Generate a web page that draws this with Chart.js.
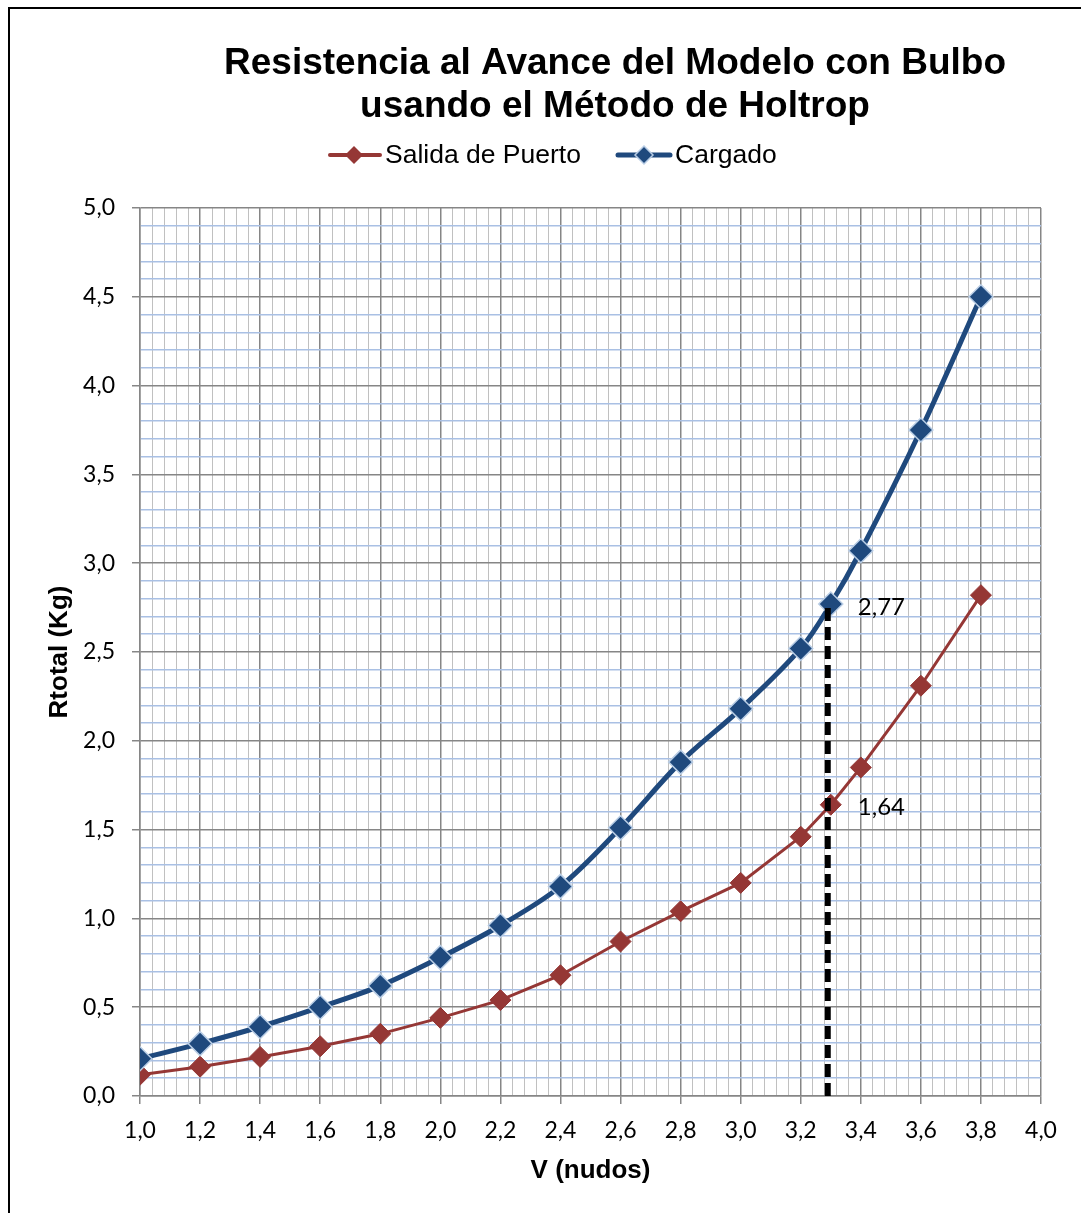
<!DOCTYPE html>
<html>
<head>
<meta charset="utf-8">
<script src="https://cdn.jsdelivr.net/npm/chart.js@4.4.1/dist/chart.umd.min.js"></script>
<style>
  html, body { margin: 0; padding: 0; background: #fff; }
  #wrap { position: relative; width: 1081px; height: 1213px; }
</style>
</head>
<body>
<div id="wrap"><canvas id="chart"></canvas></div>
<script>
// datos
const velocidades = [1.0, 1.2, 1.4, 1.6, 1.8, 2.0, 2.2, 2.4, 2.6, 2.8, 3.0, 3.2, 3.3, 3.4, 3.6, 3.8];
const salidaPuerto = [0.12, 0.165, 0.22, 0.28, 0.35, 0.44, 0.54, 0.68, 0.87, 1.04, 1.20, 1.46, 1.64, 1.85, 2.31, 2.82];
const cargado = [0.21, 0.295, 0.39, 0.50, 0.62, 0.78, 0.96, 1.18, 1.51, 1.88, 2.18, 2.52, 2.77, 3.07, 3.75, 4.50];
const lineaV = [3.29, 3.29];
const lineaR = [0, 2.77];
const etiquetasV = [3.3, 3.3];
const etiquetasR = [2.77, 1.64];
const etiquetasTexto = ['2,77', '1,64'];
const titulo = ['Resistencia al Avance del Modelo con Bulbo', 'usando el Método de Holtrop'];
const nombresSeries = ['Salida de Puerto', 'Cargado'];

const ROJO = '#953735';
const AZUL = '#1F497D';
const AZUL_BORDE = '#B9CDE5';
const GRIS = '#868686';
const GRIS_MENOR = '#C0C0C0';
const AZUL_MENOR = '#A9C0E4';
const fuenteNum = 'Lato, "Open Sans", sans-serif';
const fuenteTit = '"Liberation Sans", Arial, sans-serif';

const esMultiplo = (v, paso) => Math.abs(v / paso - Math.round(v / paso)) < 1e-6;
const coma = v => v.toFixed(1).replace('.', ',');

function rombo(ctx, x, y, r, relleno, borde) {
    ctx.beginPath();
    ctx.moveTo(x, y - r);
    ctx.lineTo(x + r, y);
    ctx.lineTo(x, y + r);
    ctx.lineTo(x - r, y);
    ctx.closePath();
    ctx.fillStyle = relleno;
    ctx.fill();
    if (borde) {
        ctx.strokeStyle = borde;
        ctx.lineWidth = 1.5;
        ctx.stroke();
    }
}

const decoracion = {
    id: 'decoracion',
    beforeDraw(chart) {
        const ctx = chart.ctx;
        ctx.save();
        ctx.fillStyle = '#fff';
        ctx.fillRect(0, 0, chart.width, chart.height);
        ctx.restore();
    },
    afterDraw(chart) {
        const { ctx, scales: { x, y } } = chart;
        ctx.save();
        // marco exterior
        ctx.strokeStyle = '#000';
        ctx.lineWidth = 2;
        ctx.beginPath();
        ctx.moveTo(9, chart.height);
        ctx.lineTo(9, 8);
        ctx.lineTo(chart.width, 8);
        ctx.stroke();

        // titulo
        ctx.fillStyle = '#000';
        ctx.textAlign = 'center';
        ctx.textBaseline = 'middle';
        ctx.font = 'bold 37px ' + fuenteTit;
        ctx.fillText(titulo[0], 615, 64);
        ctx.fillText(titulo[1], 615, 107);

        // leyenda
        ctx.lineCap = 'round';
        ctx.strokeStyle = ROJO;
        ctx.lineWidth = 4;
        ctx.beginPath(); ctx.moveTo(330, 155); ctx.lineTo(380, 155); ctx.stroke();
        rombo(ctx, 354, 155, 9, ROJO);
        ctx.strokeStyle = AZUL;
        ctx.lineWidth = 5;
        ctx.beginPath(); ctx.moveTo(618, 155); ctx.lineTo(670, 155); ctx.stroke();
        rombo(ctx, 644, 155, 9, AZUL, AZUL_BORDE);
        ctx.fillStyle = '#000';
        ctx.textAlign = 'left';
        ctx.font = '26.5px ' + fuenteTit;
        ctx.fillText(nombresSeries[0], 385, 156);
        ctx.fillText(nombresSeries[1], 675, 156);

        // etiquetas de datos
        ctx.font = '24px ' + fuenteNum;
        etiquetasTexto.forEach((t, i) => {
            ctx.fillText(t, x.getPixelForValue(etiquetasV[i]) + 27, y.getPixelForValue(etiquetasR[i]) + 3);
        });
        ctx.restore();
    }
};

const puntos = serie => velocidades.map((v, i) => ({ x: v, y: serie[i] }));

new Chart(document.getElementById('chart'), {
    type: 'line',
    data: {
        datasets: [
            {
                label: 'V = 3,29',
                data: lineaV.map((v, i) => ({ x: v, y: lineaR[i] })),
                borderColor: '#000',
                borderWidth: 6,
                borderDash: [13, 6],
                pointRadius: 0,
                order: -1
            },
            {
                label: nombresSeries[1],
                data: puntos(cargado),
                borderColor: AZUL,
                borderWidth: 5,
                tension: 0.35,
                pointStyle: 'rectRot',
                pointRadius: 12,
                pointBackgroundColor: AZUL,
                pointBorderColor: AZUL_BORDE,
                pointBorderWidth: 1.5,
                order: 1
            },
            {
                label: nombresSeries[0],
                data: puntos(salidaPuerto),
                borderColor: ROJO,
                borderWidth: 3,
                tension: 0,
                pointStyle: 'rectRot',
                pointRadius: 10.5,
                pointBackgroundColor: ROJO,
                pointBorderColor: ROJO,
                pointBorderWidth: 1,
                order: 2
            }
        ]
    },
    options: {
        responsive: true,
        maintainAspectRatio: false,
        animation: false,
        layout: { padding: { top: 208, left: 0, right: 40, bottom: 0 } },
        plugins: {
            legend: { display: false },
            title: { display: false },
            tooltip: { enabled: false }
        },
        scales: {
            x: {
                type: 'linear',
                min: 1,
                max: 4,
                afterFit(s) { s.height = 117; s.paddingLeft = 0; s.paddingRight = 0; },
                border: { color: GRIS, width: 1.5 },
                grid: {
                    color: c => esMultiplo(c.tick.value, 0.2) ? GRIS : GRIS_MENOR,
                    lineWidth: c => esMultiplo(c.tick.value, 0.2) ? 1.5 : 1,
                    tickColor: c => esMultiplo(c.tick.value, 0.2) ? GRIS : 'rgba(0,0,0,0)',
                    tickLength: 8
                },
                ticks: {
                    stepSize: 0.04,
                    autoSkip: false,
                    maxRotation: 0,
                    padding: 13,
                    color: '#000',
                    font: { family: fuenteNum, size: 23 },
                    callback: v => esMultiplo(v, 0.2) ? coma(v) : ''
                },
                title: {
                    display: true,
                    text: 'V (nudos)',
                    color: '#000',
                    font: { family: fuenteTit, size: 26, weight: 'bold' },
                    padding: { top: 0, bottom: 27 }
                }
            },
            y: {
                min: 0,
                max: 5,
                afterFit(s) { s.width = 140; s.paddingTop = 0; s.paddingBottom = 0; },
                border: { color: GRIS, width: 1.5 },
                grid: {
                    color: c => esMultiplo(c.tick.value, 0.5) ? GRIS : AZUL_MENOR,
                    lineWidth: 1.5,
                    tickColor: c => esMultiplo(c.tick.value, 0.5) ? GRIS : 'rgba(0,0,0,0)',
                    tickLength: 8
                },
                ticks: {
                    stepSize: 0.1,
                    autoSkip: false,
                    padding: 17,
                    color: '#000',
                    font: { family: fuenteNum, size: 23 },
                    callback: v => esMultiplo(v, 0.5) ? coma(v) : ''
                },
                title: {
                    display: true,
                    text: 'Rtotal (Kg)',
                    color: '#000',
                    font: { family: fuenteTit, size: 26, weight: 'bold' },
                    padding: { top: 44, bottom: 0 }
                }
            }
        }
    },
    plugins: [decoracion]
});
</script>
</body>
</html>
